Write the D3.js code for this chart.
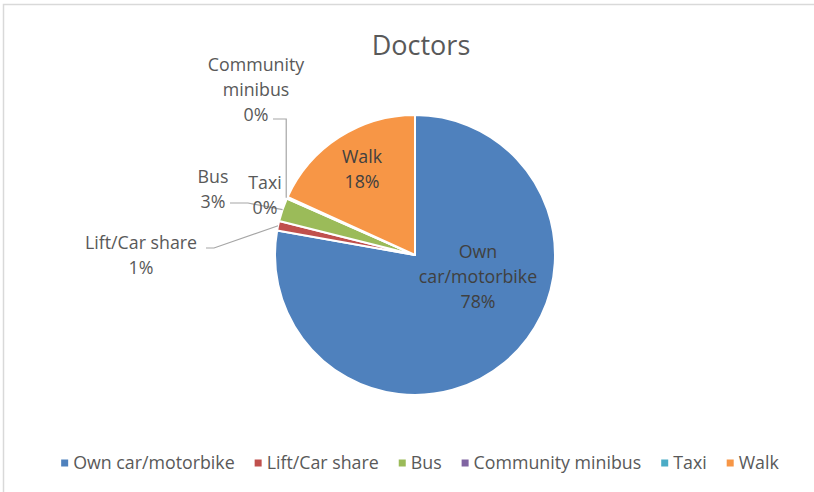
<!DOCTYPE html>
<html>
<head>
<meta charset="utf-8">
<script src="https://cdn.jsdelivr.net/npm/d3@7/dist/d3.min.js"></script>
<style>
  html, body { margin: 0; padding: 0; background: #fff; }
  svg { display: block; font-family: "Open Sans", "Noto Sans", sans-serif; }
</style>
</head>
<body>
<svg id="chart" width="814" height="492"></svg>
<script>
// Travel mode shares for doctors' visits (percent)
const categories = ["Own car/motorbike", "Lift/Car share", "Bus", "Community minibus", "Taxi", "Walk"];
const shares = [77.8, 1.1, 2.7, 0.1, 0.1, 18.2];
const colors = ["#4f81bd", "#c0504d", "#9bbb59", "#8064a2", "#4bacc6", "#f79646"];
const labelLines = [["Own", "car/motorbike"], ["Lift/Car share"], ["Bus"], ["Community", "minibus"], ["Taxi"], ["Walk"]];
const title = "Doctors";

const W = 814, H = 492;
const cx = 415, cy = 255, R = 140;
const fontSize = 17.8;
const svg = d3.select("#chart");

// chart area frame
svg.append("rect")
  .attr("x", 3.5).attr("y", 4.5).attr("width", W + 20).attr("height", H + 20)
  .attr("fill", "#fff").attr("stroke", "#d9d9d9").attr("stroke-width", 1.5);

svg.append("text")
  .attr("x", 421).attr("y", 55)
  .attr("text-anchor", "middle")
  .attr("font-size", 27)
  .attr("fill", "#595959")
  .text(title);

const data = categories.map((c, i) => ({ name: c, value: shares[i], color: colors[i], lines: labelLines[i], i }));

const pie = d3.pie().value(d => d.value).sort(null);
const arcs = pie(data);
const arc = d3.arc().innerRadius(0).outerRadius(R);

const g = svg.append("g").attr("transform", `translate(${cx},${cy})`);
g.selectAll("path.slice")
  .data(arcs)
  .join("path")
  .attr("class", "slice")
  .attr("d", arc)
  .attr("fill", d => d.data.color)
  .attr("stroke", "#fff")
  .attr("stroke-width", 2)
  .attr("stroke-linejoin", "round");

const pct = v => Math.round(v) + "%";

// Point on the rim at a slice's mid angle
function rimPoint(a, k = 1) {
  const m = (a.startAngle + a.endAngle) / 2;
  return [cx + Math.sin(m) * R * k, cy - Math.cos(m) * R * k];
}

// Label placement: centre of first line and leader path to the slice
const lineGap = 25;
const placement = {
  "Own car/motorbike": { x: 478, y: 252, inside: true },
  "Walk": { x: 362, y: 157, inside: true },
  "Community minibus": { x: 256, y: 65, leader: p => [[273, 119], [p[0] - 1, 119], [p[0] - 1, p[1]]] },
  "Taxi": { x: 265, y: 183 },
  "Bus": { x: 213, y: 177, leader: p => [[230, 203], [248, 203], p] },
  "Lift/Car share": { x: 141, y: 243, leader: p => [[206, 248], [214, 248], p] }
};

const leaderG = svg.append("g");
const labelG = svg.append("g");

arcs.forEach(a => {
  const pl = placement[a.data.name];
  const lines = a.data.lines.concat([pct(a.data.value)]);
  if (pl.leader) {
    let p;
    if (a.data.name === "Community minibus") {
      // leader meets the outer corner of the slice
      p = [cx + Math.sin(a.endAngle) * R, cy - Math.cos(a.endAngle) * R];
    } else {
      p = rimPoint(a, 1.0);
    }
    leaderG.append("path")
      .attr("d", d3.line()(pl.leader(p)))
      .attr("fill", "none")
      .attr("stroke", "#a6a6a6")
      .attr("stroke-width", 1.2);
  }
  const t = labelG.append("text")
    .attr("text-anchor", "middle")
    .attr("font-size", fontSize)
    .attr("fill", pl.inside ? "#404040" : "#595959");
  lines.forEach((ln, k) => {
    t.append("tspan")
      .attr("x", pl.x)
      .attr("y", pl.y + k * lineGap)
      .attr("dy", "0.35em")
      .text(ln);
  });
});

// Legend
const legendY = 463, sq = 7, textGap = 5, itemGap = 20, legendCx = 420;
const lg = svg.append("g");
const items = data.map(d => {
  const item = lg.append("g");
  item.append("rect").attr("width", sq).attr("height", sq).attr("y", legendY - sq / 2).attr("fill", d.color);
  const txt = item.append("text")
    .attr("x", sq + textGap).attr("y", legendY).attr("dy", "0.35em")
    .attr("font-size", fontSize).attr("fill", "#595959").text(d.name);
  return { item, w: sq + textGap + txt.node().getComputedTextLength() };
});
const total = d3.sum(items, d => d.w) + itemGap * (items.length - 1);
let x0 = legendCx - total / 2;
items.forEach(it => {
  it.item.attr("transform", `translate(${x0},0)`);
  x0 += it.w + itemGap;
});
</script>
</body>
</html>
